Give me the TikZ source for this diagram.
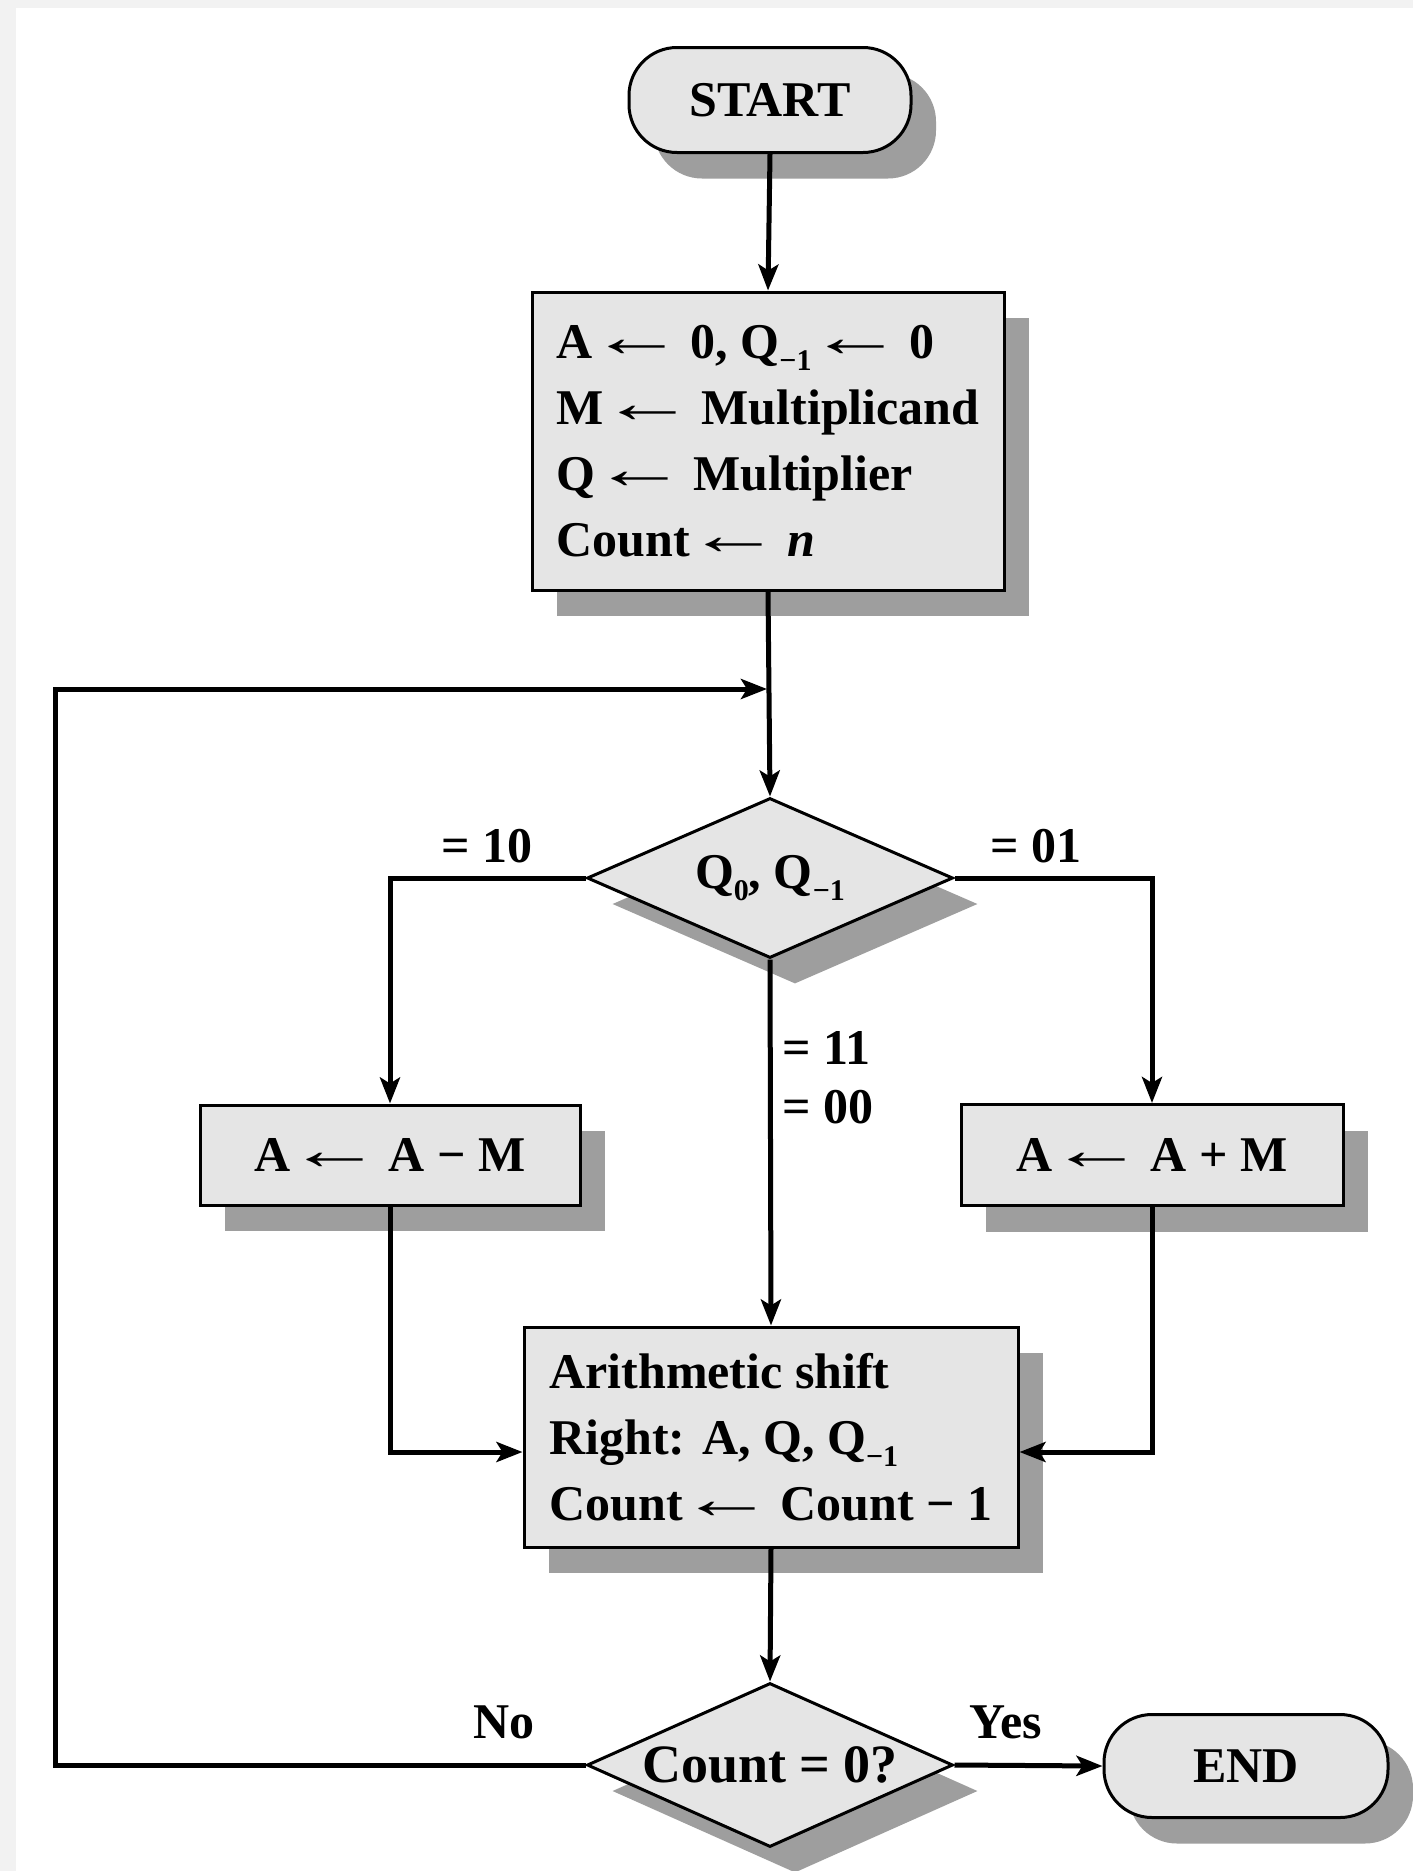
\documentclass[tikz,border=0pt]{standalone}
\usepackage{fontspec}
\setmainfont{Liberation Serif}
\usetikzlibrary{shapes.geometric,shadows,arrows.meta}
\newcommand{\sbs}[1]{\raisebox{-0.25em}{\fontsize{30}{30}\selectfont #1}}
\newcommand{\lar}{\kern-0.06em\raisebox{0.04em}{\scalebox{1.9}[1.15]{\mdseries ←}}\kern0.12em}
\begin{document}
\begin{tikzpicture}[x=1pt,y=-1pt,
  txt/.style={font=\bfseries\fontsize{50}{66}\selectfont},
  shad/.style={drop shadow={shadow xshift=25pt,shadow yshift=-26pt,fill=black!38,opacity=1}},
  nodebase/.style={txt,draw=black,line width=3pt,fill=black!10,shad,inner sep=0pt,align=left},
  procbox/.style={nodebase,rectangle},
  pill/.style={nodebase,rectangle,rounded corners=48pt,align=center},
  decision/.style={nodebase,diamond,minimum width=366pt,minimum height=160pt,aspect=2.3,align=center},
  arr/.style={line width=5pt,-{Stealth[length=26pt,width=20pt,inset=6pt]}},
  lab/.style={txt,inner sep=0pt}
]
\useasboundingbox (0,0) rectangle (1413,1871);
\fill[black!5] (0,0) rectangle (1413,1871);
\fill[white] (16,8) rectangle (1413,1871);

\node[pill,minimum width=282pt,minimum height=105pt] (start) at (770,100) {START};
\node[procbox,minimum width=472pt,minimum height=298pt] (init) at (768,441)
  {A\lar 0, Q\sbs{−1}\lar 0\\M\lar Multiplicand\\Q\lar Multiplier\\Count\lar \textit{n}};
\node[decision] (d1) at (770,878) {Q\sbs{0}, Q\sbs{−1}};
\node[procbox,minimum width=380pt,minimum height=100pt,align=center] (sub) at (390,1155) {A\lar A − M};
\node[procbox,minimum width=382pt,minimum height=101pt,align=center] (add) at (1152,1155) {A\lar A + M};
\node[procbox,minimum width=494pt,minimum height=220pt] (shift) at (771,1437)
  {Arithmetic shift\\Right: A, Q, Q\sbs{−1}\\Count\lar Count − 1};
\node[decision,minimum height=164pt,font=\bfseries\fontsize{54}{66}\selectfont] (d2) at (770,1765) {Count = 0?};
\node[pill,minimum width=284pt,minimum height=103pt] (end) at (1246,1766) {END};

\coordinate (loopc) at (55,689);
\coordinate (join) at (767,689);

\draw[arr] (start.south) -- (init.north);
\draw[arr] (init.south) -- (d1.north);
\draw[arr] (d1.west) -| (sub.north);
\draw[arr] (d1.east) -| (add.north);
\draw[arr] (d1.south) -- (shift.north);
\draw[arr] (sub.south) |- ([yshift=-15pt]shift.west);
\draw[arr] (add.south) |- ([yshift=-15pt]shift.east);
\draw[arr] (shift.south) -- (d2.north);
\draw[arr] (d2.east) -- (end.west);
\draw[arr] (d2.west) -| (loopc) -- (join);

\node[lab] (l10) at (487,846) {= 10};
\node[lab] (l01) at (1036,846) {= 01};
\node[lab,anchor=west] (l11) at (782,1048) {= 11};
\node[lab,anchor=west] (l00) at (782,1107) {= 00};
\node[lab] (lno) at (504,1722) {No};
\node[lab] (lyes) at (1006,1722) {Yes};
\end{tikzpicture}
\end{document}
